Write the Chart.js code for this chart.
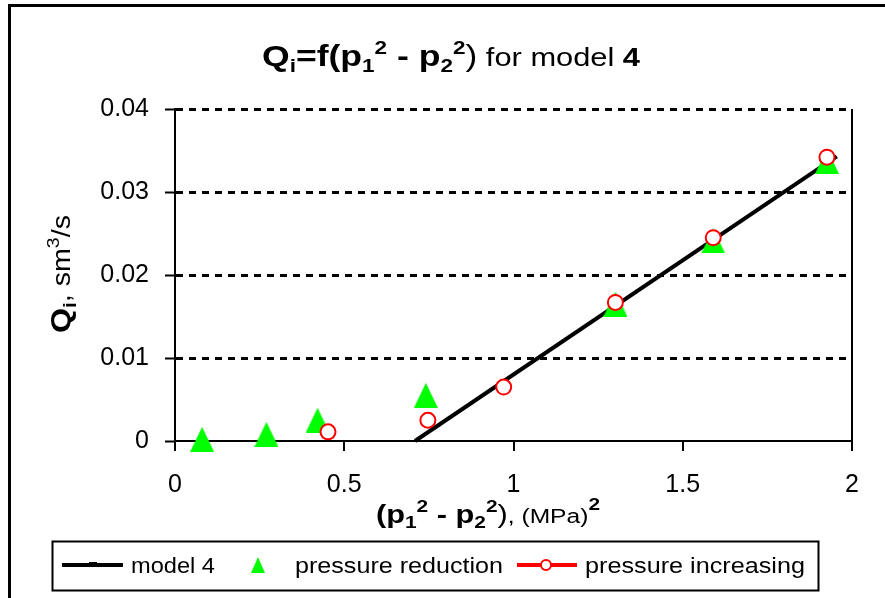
<!DOCTYPE html>
<html><head><meta charset="utf-8">
<script src="https://cdn.jsdelivr.net/npm/chart.js@4/dist/chart.umd.min.js"></script>
<style>html,body{margin:0;padding:0;background:#fff;}#wrap{width:885px;height:598px;position:relative;background:#fff;}</style>
</head><body><div id="wrap"><canvas id="c" width="885" height="598"></canvas></div>
<script>
// ---- data ----
const xTickValues = [0, 0.5, 1, 1.5, 2];
const xTickLabels = ['0', '0.5', '1', '1.5', '2'];
const yTickValues = [0, 0.01, 0.02, 0.03, 0.04];
const yTickLabels = ['0', '0.01', '0.02', '0.03', '0.04'];
const modelX = [0.709, 1.955];
const modelY = [0, 0.0343];
const reductionX = [0.080, 0.270, 0.421, 0.741, 1.301, 1.590, 1.926];
const reductionY = [0.0002, 0.0008, 0.0025, 0.0055, 0.0165, 0.0241, 0.0337];
const increasingX = [0.452, 0.747, 0.971, 1.301, 1.590, 1.926];
const increasingY = [0.0011, 0.0025, 0.0065, 0.0167, 0.0245, 0.0342];
const seriesNames = ['model 4', 'pressure reduction', 'pressure increasing'];

const F = '"Liberation Sans", Arial, sans-serif';
const GREEN = '#00ff00', RED = '#ff0000';

function makeTriangle(w, h, color) {
  const c = document.createElement('canvas');
  c.width = w; c.height = h;
  const g = c.getContext('2d');
  g.fillStyle = color;
  g.beginPath(); g.moveTo(w / 2, 0); g.lineTo(w, h); g.lineTo(0, h); g.closePath(); g.fill();
  return c;
}
const triBig = makeTriangle(24, 25, GREEN);
const triSmall = makeTriangle(14, 16, GREEN);

const zip = (xs, ys) => xs.map((x, i) => ({x: x, y: ys[i]}));

function richWidth(ctx, runs) {
  let w = 0;
  for (const r of runs) { ctx.font = r.f; w += ctx.measureText(r.t).width; }
  return w;
}
function drawRichFit(ctx, runs, x0, x1, base) {
  const w = richWidth(ctx, runs);
  const sx = (x1 - x0) / w;
  ctx.save();
  ctx.translate(x0, base); ctx.scale(sx, 1);
  ctx.fillStyle = '#000'; ctx.textBaseline = 'alphabetic'; ctx.textAlign = 'left';
  let x = 0;
  for (const r of runs) { ctx.font = r.f; ctx.fillText(r.t, x, r.dy || 0); x += ctx.measureText(r.t).width; }
  ctx.restore();
}

const decor = {
  id: 'decor',
  beforeDraw(chart) {
    const ctx = chart.ctx;
    ctx.save(); ctx.fillStyle = '#fff'; ctx.fillRect(0, 0, chart.width, chart.height);
    ctx.strokeStyle = '#000'; ctx.lineWidth = 3;
    ctx.strokeRect(9.5, 5.5, 900, 620);
    ctx.restore();
  },
  afterDraw(chart) {
    const ctx = chart.ctx;
    const B30 = 'bold 30px ' + F, B19 = 'bold 19px ' + F;
    drawRichFit(ctx, [
      {t: 'Q', f: B30}, {t: 'i', f: B19, dy: 6}, {t: '=f(p', f: B30},
      {t: '1', f: B19, dy: 6}, {t: '2', f: B19, dy: -12}, {t: ' - p', f: B30},
      {t: '2', f: B19, dy: 6}, {t: '2', f: B19, dy: -12}, {t: ')', f: '30px ' + F},
      {t: ' for model ', f: '26px ' + F}, {t: '4', f: 'bold 26px ' + F}
    ], 262, 640, 66);
    ctx.save();
    ctx.translate(70, 333); ctx.rotate(-Math.PI / 2);
    drawRichFit(ctx, [
      {t: 'Q', f: 'bold 28px ' + F}, {t: 'i', f: 'bold 18px ' + F, dy: 6},
      {t: ', sm', f: '25px ' + F}, {t: '3', f: '17px ' + F, dy: -11}, {t: '/s', f: '25px ' + F}
    ], 0, 118, 0);
    ctx.restore();
    const B24 = 'bold 25px ' + F, B16 = 'bold 17px ' + F;
    drawRichFit(ctx, [
      {t: '(p', f: B24}, {t: '1', f: B16, dy: 5}, {t: '2', f: B16, dy: -11}, {t: ' - p', f: B24},
      {t: '2', f: B16, dy: 5}, {t: '2', f: B16, dy: -11}, {t: ')', f: '25px ' + F},
      {t: ', (MPa)', f: '20px ' + F}, {t: '2', f: B16, dy: -13}
    ], 376, 600, 523);
    // legend
    ctx.save();
    ctx.strokeStyle = '#000'; ctx.lineWidth = 2;
    ctx.strokeRect(52.5, 541.5, 766, 49);
    const ly = 565;
    ctx.lineWidth = 4; ctx.strokeStyle = '#000';
    ctx.beginPath(); ctx.moveTo(62, ly); ctx.lineTo(123, ly); ctx.stroke();
    ctx.fillStyle = '#000'; ctx.fillRect(89, ly - 3, 8, 4);
    ctx.drawImage(triSmall, 258 - triSmall.width / 2, ly - triSmall.height / 2);
    ctx.strokeStyle = RED; ctx.lineWidth = 4;
    ctx.beginPath(); ctx.moveTo(517, ly); ctx.lineTo(577, ly); ctx.stroke();
    ctx.fillStyle = '#fff'; ctx.lineWidth = 2;
    ctx.beginPath(); ctx.arc(546, ly, 5, 0, Math.PI * 2); ctx.fill(); ctx.stroke();
    ctx.restore();
    const LF = '22px ' + F;
    drawRichFit(ctx, [{t: seriesNames[0], f: LF}], 131, 215, 573);
    drawRichFit(ctx, [{t: seriesNames[1], f: LF}], 295, 503, 573);
    drawRichFit(ctx, [{t: seriesNames[2], f: LF}], 585, 805, 573);
  }
};

const tickFont = {family: F, size: 25};

new Chart(document.getElementById('c'), {
  type: 'scatter',
  data: {
    datasets: [
      {label: seriesNames[0], type: 'line', data: zip(modelX, modelY), borderColor: '#000', borderWidth: 4,
       pointRadius: 0, fill: false, showLine: true, order: 3, clip: false},
      {label: seriesNames[1], data: zip(reductionX, reductionY), pointStyle: triBig, pointRadius: 12,
       backgroundColor: GREEN, borderColor: GREEN, order: 2, clip: false},
      {label: seriesNames[2], data: zip(increasingX, increasingY), pointStyle: 'circle', pointRadius: 7.5,
       backgroundColor: '#fff', borderColor: RED, borderWidth: 2, order: 1, clip: false}
    ]
  },
  options: {
    responsive: false, animation: false, devicePixelRatio: 1,
    layout: {padding: {top: 109, right: 33, bottom: 97, left: 0}},
    plugins: {legend: {display: false}, title: {display: false}, tooltip: {enabled: false}},
    scales: {
      x: {
        type: 'linear', position: 'bottom', min: 0, max: 2,
        afterBuildTicks: s => { s.ticks = xTickValues.map(v => ({value: v})); },
        afterFit: s => { s.height = 60; },
        ticks: {callback: (v, i) => xTickLabels[i], font: tickFont, color: '#000', padding: 19, maxRotation: 0, autoSkip: false},
        grid: {drawOnChartArea: true, color: c => (c.tick && c.tick.value === 2) ? '#000' : 'rgba(0,0,0,0)',
               lineWidth: 2, tickColor: '#000', tickWidth: 2, tickLength: 10, tickBorderDash: []},
        border: {color: '#000', width: 2}
      },
      y: {
        type: 'linear', min: 0, max: 0.04,
        afterBuildTicks: s => { s.ticks = yTickValues.map(v => ({value: v})); },
        afterFit: s => { s.width = 175; },
        ticks: {callback: (v, i) => yTickLabels[i], font: tickFont, color: '#000', padding: 16, autoSkip: false},
        grid: {color: c => (c.tick && c.tick.value === 0) ? 'rgba(0,0,0,0)' : '#000',
               lineWidth: 3, tickColor: '#000', tickWidth: 2, tickLength: 10, tickBorderDash: []},
        border: {color: '#000', width: 2, dash: [7, 6]}
      }
    }
  },
  plugins: [decor]
});
</script></body></html>
